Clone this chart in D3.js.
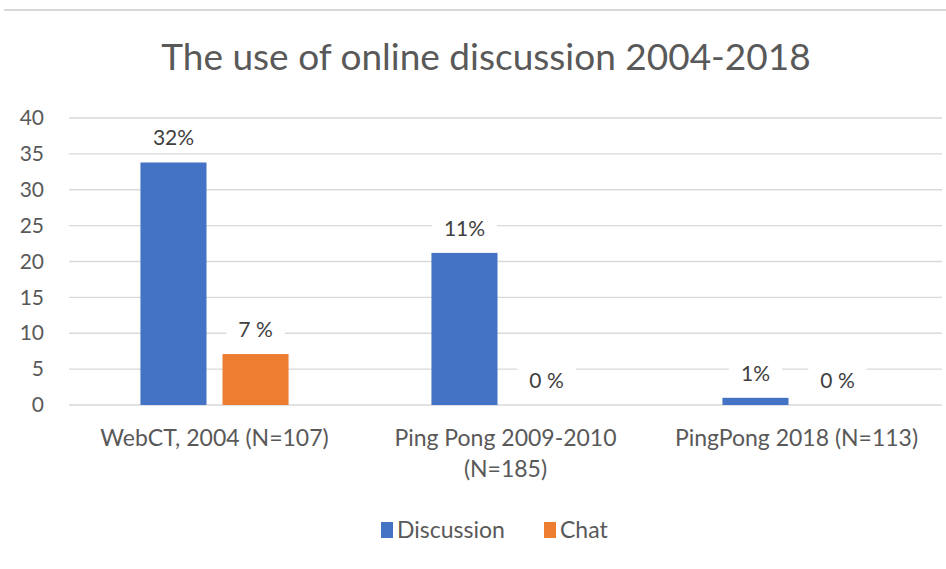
<!DOCTYPE html>
<html>
<head>
<meta charset="utf-8">
<script src="https://cdn.jsdelivr.net/npm/d3@7"></script>
<style>
  body { margin: 0; background: #fff; }
  svg { display: block; font-family: Lato, "Noto Sans", sans-serif; }
</style>
</head>
<body>
<div id="chart"></div>
<script>
// DATA
var categories = [["WebCT, 2004 (N=107)"], ["Ping Pong 2009-2010", "(N=185)"], ["PingPong 2018 (N=113)"]];
var series = ["Discussion", "Chat"];
var discussionValues = [33.8, 21.2, 1.0];
var chatValues = [7.1, 0, 0];
var discussionLabels = ["32%", "11%", "1%"];
var chatLabels = ["7 %", "0 %", "0 %"];
var yTicks = [0, 5, 10, 15, 20, 25, 30, 35, 40];
var colors = { Discussion: "#4472C4", Chat: "#ED7D31" };

var width = 946, height = 569;
var plotLeft = 69, plotRight = 942, plotTop = 118, plotBottom = 405;

var svg = d3.select("#chart").append("svg")
    .attr("width", width)
    .attr("height", height);

// chart border, only the top shows in the reference
svg.append("line")
    .attr("x1", 4).attr("x2", width)
    .attr("y1", 10).attr("y2", 10)
    .attr("stroke", "#d9d9d9")
    .attr("stroke-width", 2);

svg.append("text")
    .attr("x", 486)
    .attr("y", 70)
    .attr("text-anchor", "middle")
    .attr("fill", "#595959")
    .style("font-size", "37px")
    .text("The use of online discussion 2004-2018");

var catKeys = categories.map(c => c.join(" "));

var x0 = d3.scaleBand()
    .domain(catKeys)
    .range([plotLeft, plotRight])
    .paddingInner(0.491)
    .paddingOuter(0.2455);

var x1 = d3.scaleBand()
    .domain(series)
    .range([0, x0.bandwidth()])
    .paddingInner(0.195);

var y = d3.scaleLinear()
    .domain([0, 40])
    .range([plotBottom, plotTop]);

// gridlines
svg.append("g")
    .selectAll("line")
    .data(yTicks)
    .join("line")
    .attr("x1", plotLeft).attr("x2", plotRight)
    .attr("y1", d => y(d)).attr("y2", d => y(d))
    .attr("stroke", "#d9d9d9")
    .attr("stroke-width", 1.3);

// y axis labels
var yAxis = d3.axisLeft(y).tickValues(yTicks).tickSize(0).tickPadding(0);
var gy = svg.append("g")
    .attr("transform", "translate(44,0)")
    .call(yAxis);
gy.select(".domain").remove();
gy.selectAll("text")
    .attr("fill", "#595959")
    .style("font-size", "21px")
    .style("font-family", "Lato, 'Noto Sans', sans-serif");

var rows = catKeys.map((k, i) => ({
    key: k,
    vals: [
        { s: "Discussion", v: discussionValues[i], label: discussionLabels[i] },
        { s: "Chat", v: chatValues[i], label: chatLabels[i] }
    ]
}));

var groups = svg.append("g")
    .selectAll("g")
    .data(rows)
    .join("g")
    .attr("transform", d => "translate(" + x0(d.key) + ",0)");

groups.selectAll("rect")
    .data(d => d.vals)
    .join("rect")
    .attr("x", d => x1(d.s))
    .attr("width", x1.bandwidth())
    .attr("y", d => y(d.v))
    .attr("height", d => y(0) - y(d.v))
    .attr("fill", d => colors[d.s]);

// data labels with white boxes
var lab = groups.selectAll("g.lab")
    .data(d => d.vals)
    .join("g")
    .attr("class", "lab")
    .attr("transform", d => "translate(" + (x1(d.s) + x1.bandwidth() / 2) + "," + (y(d.v) - 17) + ")");

lab.append("text")
    .attr("text-anchor", "middle")
    .attr("fill", "#404040")
    .style("font-size", "21px")
    .text(d => d.label)
    .each(function () {
        var b = this.getBBox();
        d3.select(this.parentNode).insert("rect", "text")
            .attr("x", b.x - 12).attr("y", b.y - 2)
            .attr("width", b.width + 24).attr("height", b.height + 4)
            .attr("fill", "#fff");
    });

// category labels
var xl = svg.append("g")
    .selectAll("text")
    .data(categories)
    .join("text")
    .attr("x", (d, i) => x0(catKeys[i]) + x0.bandwidth() / 2)
    .attr("y", 446)
    .attr("text-anchor", "middle")
    .attr("fill", "#595959")
    .style("font-size", "23px");
xl.selectAll("tspan")
    .data(d => d)
    .join("tspan")
    .attr("x", function () { return this.parentNode.getAttribute("x"); })
    .attr("dy", (d, i) => i === 0 ? 0 : 31)
    .text(d => d);

// legend
var legend = svg.append("g").attr("transform", "translate(381,538)");
var legendX = [0, 163];
series.forEach((s, i) => {
    var g = legend.append("g").attr("transform", "translate(" + legendX[i] + ",0)");
    g.append("rect")
        .attr("x", 0).attr("y", -16)
        .attr("width", 12).attr("height", 16)
        .attr("fill", colors[s]);
    g.append("text")
        .attr("x", 16).attr("y", 0)
        .attr("fill", "#595959")
        .style("font-size", "23px")
        .text(s);
});
</script>
</body>
</html>
